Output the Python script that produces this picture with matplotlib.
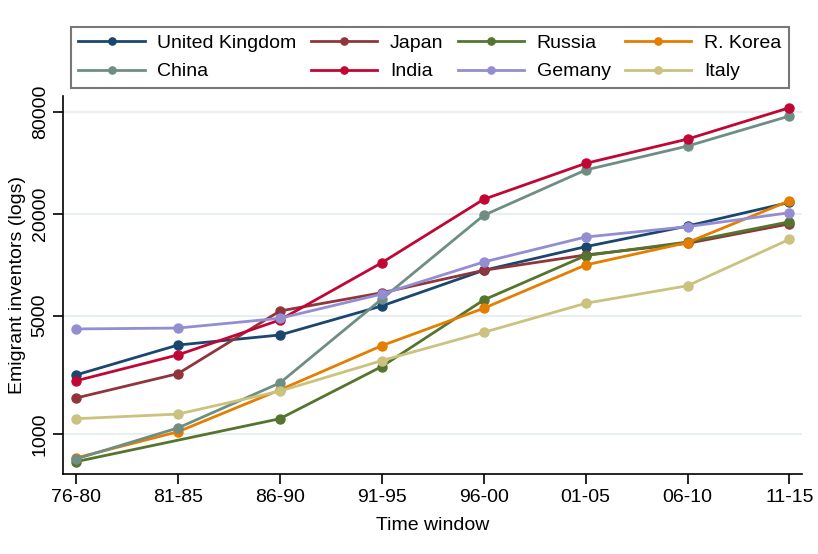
import numpy as np
import matplotlib
matplotlib.use("Agg")
import matplotlib.pyplot as plt
from matplotlib.ticker import FixedLocator, NullLocator

plt.rcParams['font.family'] = ['Liberation Sans', 'DejaVu Sans']

windows = ["76-80", "81-85", "86-90", "91-95", "96-00", "01-05", "06-10", "11-15"]

# emigrant inventors per time window
uk      = [2230, 3350, 3840, 5700, 9250, 12760, 16900, 23300]
japan   = [1630, 2270, 5320, 6820, 9250, 11400, 13350, 17400]
russia  = [686, None, 1230, 2500, 6180, 11300, 13600, 17900]
korea   = [722, 1030, 1820, 3320, 5520, 9950, 13500, 23800]
china   = [711, 1085, 2000, 6260, 19540, 36200, 50100, 75400]
india   = [2060, 2930, 4710, 10260, 24300, 39600, 55100, 84400]
germany = [4170, 4220, 4820, 6700, 10360, 14550, 16750, 20250]
italy   = [1230, 1310, 1790, 2710, 3980, 5910, 7500, 14100]

series = [
    ("United Kingdom", uk, "#1a476f"),
    ("Japan", japan, "#90353b"),
    ("Russia", russia, "#55752f"),
    ("R. Korea", korea, "#e37e00"),
    ("China", china, "#6e8e84"),
    ("India", india, "#c10534"),
    ("Gemany", germany, "#938dd2"),
    ("Italy", italy, "#cac27e"),
]

fig = plt.figure(figsize=(8.18, 5.54), dpi=100)
ax = fig.add_axes([0.0774, 0.1444, 0.9026, 0.6823])

handles = {}
for name, vals, col in series:
    xs = [i for i, v in enumerate(vals) if v is not None]
    ys = [v for v in vals if v is not None]
    h, = ax.plot(xs, ys, color=col, lw=2, marker="o", ms=6.5, label=name)
    handles[name] = h

ax.set_yscale("log")
ax.set_ylim(580, 99000)
ax.set_xlim(-0.125, 7.12)
ax.yaxis.set_major_locator(FixedLocator([1000, 5000, 20000, 80000]))
ax.yaxis.set_minor_locator(NullLocator())
ax.set_yticklabels(["1000", "5000", "20000", "80000"], rotation=90, va="center")
ax.set_xticks(range(len(windows)))
ax.set_xticklabels(windows)
ax.tick_params(labelsize=14, length=7, width=1.2, color="black")
ax.grid(axis="y", color="#e8eff1", lw=1.5)
ax.set_axisbelow(True)

for s in ["top", "right"]:
    ax.spines[s].set_visible(False)
for s in ["left", "bottom"]:
    ax.spines[s].set_linewidth(1.2)

ax.set_ylabel("Emigrant inventors (logs)", fontsize=14, labelpad=4)
ax.set_xlabel("Time window", fontsize=14, labelpad=8)

order = ["United Kingdom", "China", "Japan", "India", "Russia", "Gemany", "R. Korea", "Italy"]
leg = fig.legend([handles[n] for n in order], order, ncol=4, loc="upper left",
                 bbox_to_anchor=(70.7 / 818, 1 - 26.7 / 554),
                 fontsize=14, frameon=True, fancybox=False, handlelength=3.4,
                 markerscale=0.8, borderaxespad=0, borderpad=0.4,
                 columnspacing=0.75, labelspacing=0.55, handletextpad=0.65)
leg.get_frame().set_edgecolor("#555555")
leg.get_frame().set_linewidth(1.5)

fig.savefig("out.png", dpi=100)
